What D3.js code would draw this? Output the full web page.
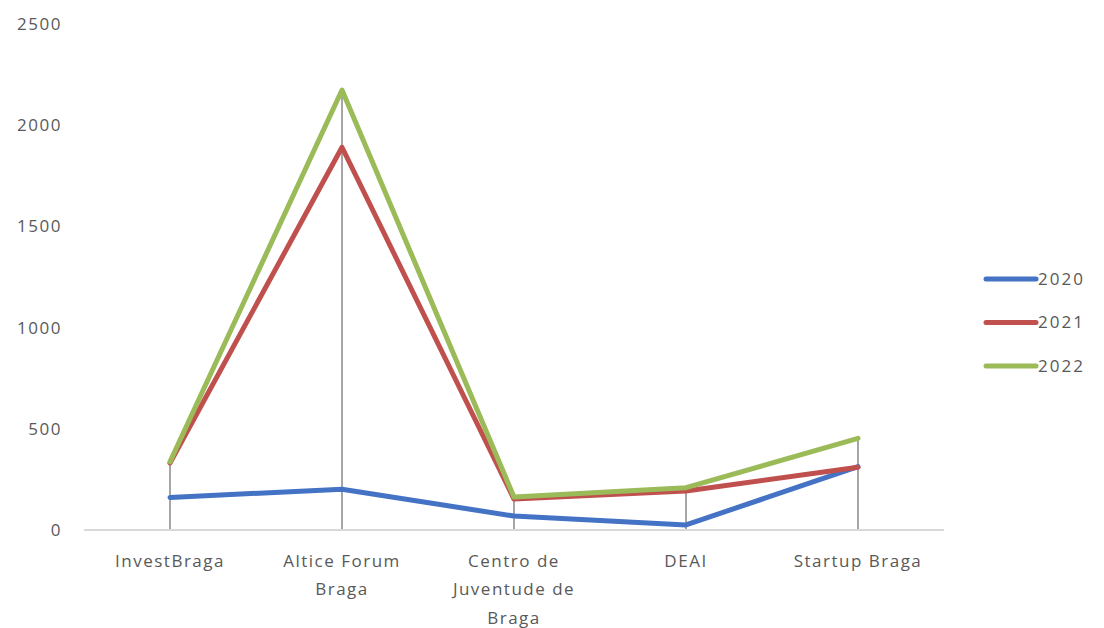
<!DOCTYPE html>
<html><head><meta charset="utf-8">
<script src="https://cdn.jsdelivr.net/npm/d3@7"></script>
<style>body{margin:0;background:#fff;} text{font-family:"Open Sans","Liberation Sans",sans-serif;}</style>
</head><body>
<svg id="c" width="1104" height="628"></svg>
<script>
const categories = ["InvestBraga", "Altice Forum Braga", "Centro de Juventude de Braga", "DEAI", "Startup Braga"];
const categoryLines = [["InvestBraga"], ["Altice Forum", "Braga"], ["Centro de", "Juventude de", "Braga"], ["DEAI"], ["Startup Braga"]];
const years = ["2020", "2021", "2022"];
const values2020 = [161, 201, 69, 25, 313];
const values2021 = [331, 1891, 153, 193, 310];
const values2022 = [337, 2174, 163, 209, 453];
const yTicks = [0, 500, 1000, 1500, 2000, 2500];
const colors = ["#4472C4", "#C0504D", "#9BBB59"];
const seriesValues = [values2020, values2021, values2022];

const svg = d3.select("#c");
const x = d3.scalePoint().domain(categories).range([84, 944]).padding(0.5);
const y = d3.scaleLinear().domain([0, 2500]).range([530, 24]);

// y tick labels
svg.append("g").selectAll("text").data(yTicks).join("text")
  .attr("x", 62).attr("y", d => y(d)).attr("dy", "0.35em")
  .attr("text-anchor", "end").attr("font-size", 17).attr("letter-spacing", 1.5).attr("fill", "#595959")
  .text(d => d);

// drop lines
const maxVals = categories.map((c, i) => d3.max(seriesValues, s => s[i]));
svg.append("g").selectAll("line").data(categories).join("line")
  .attr("x1", d => x(d)).attr("x2", d => x(d))
  .attr("y1", (d, i) => y(maxVals[i])).attr("y2", y(0))
  .attr("stroke", "#a6a6a6").attr("stroke-width", 2);

// baseline
svg.append("line").attr("x1", 84).attr("x2", 944).attr("y1", y(0)).attr("y2", y(0))
  .attr("stroke", "#d9d9d9").attr("stroke-width", 2);

// x labels
const xl = svg.append("g").selectAll("text").data(categories).join("text")
  .attr("x", d => x(d)).attr("y", 561)
  .attr("text-anchor", "middle").attr("font-size", 17).attr("letter-spacing", 1.5).attr("fill", "#595959");
xl.each(function(d, i) {
  d3.select(this).selectAll("tspan").data(categoryLines[i]).join("tspan")
    .attr("x", x(d)).attr("dy", (t, j) => j === 0 ? "0.35em" : 28.5).text(t => t);
});

// lines
const line = d3.line().x((v, i) => x(categories[i])).y(v => y(v));
svg.append("g").selectAll("path").data(seriesValues).join("path")
  .attr("d", line).attr("fill", "none")
  .attr("stroke", (d, i) => colors[i]).attr("stroke-width", 5)
  .attr("stroke-linejoin", "round").attr("stroke-linecap", "round");

// legend
const lg = svg.append("g").selectAll("g").data(years).join("g")
  .attr("transform", (d, i) => `translate(0,${279 + i * 43.5})`);
lg.append("line").attr("x1", 986).attr("x2", 1036).attr("y1", 0).attr("y2", 0)
  .attr("stroke", (d, i) => colors[i]).attr("stroke-width", 5).attr("stroke-linecap", "round");
lg.append("text").attr("x", 1038).attr("y", 0).attr("dy", "0.35em")
  .attr("font-size", 17).attr("letter-spacing", 2).attr("fill", "#595959").text(d => d);
</script>
</body></html>
